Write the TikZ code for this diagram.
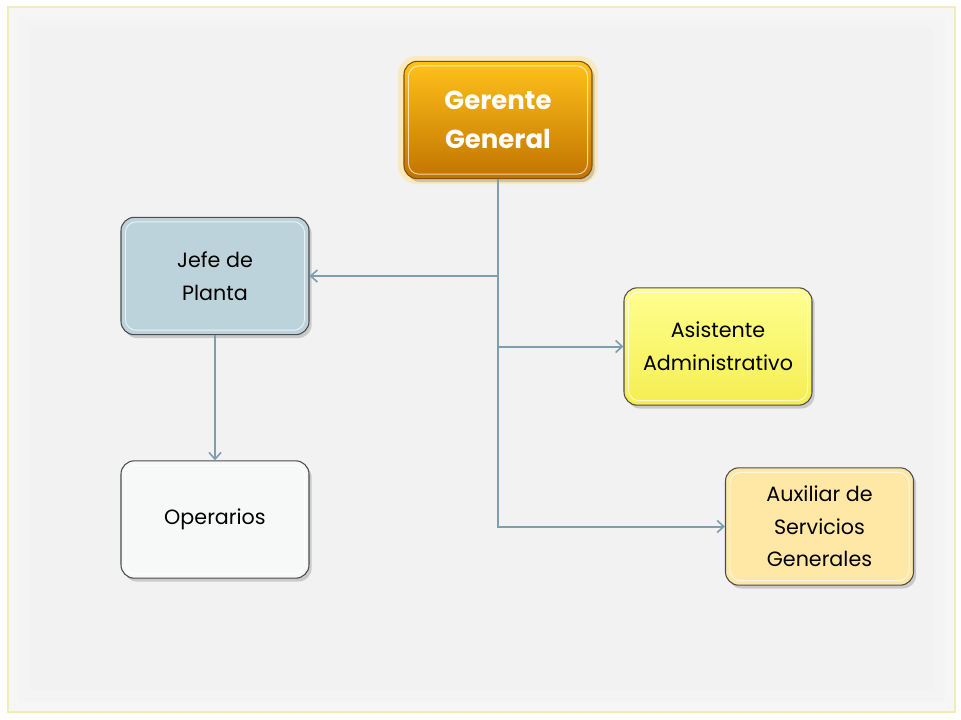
\documentclass[tikz,border=0pt]{standalone}
\usepackage{fontspec}
\setmainfont{Poppins}
\usetikzlibrary{arrows.meta,positioning,shadows,calc}
\definecolor{orgline}{HTML}{7C9EAE}
\definecolor{orgback}{HTML}{F2F2F2}
\definecolor{orgframe}{HTML}{F1EDB8}
\definecolor{gerTop}{HTML}{FFC21A}
\definecolor{gerMid}{HTML}{FF9C00}
\definecolor{gerBot}{HTML}{C27300}
\definecolor{jefeFill}{HTML}{BCD3DB}
\definecolor{operFill}{HTML}{F7F9F9}
\definecolor{asisTop}{HTML}{FFFF90}
\definecolor{asisBot}{HTML}{F4EE50}
\definecolor{auxFill}{HTML}{FFE7A6}
\tikzset{
  orgbox/.style={rounded corners=10pt, minimum width=141pt, minimum height=88pt,
    align=center, draw=black!70, line width=0.8pt, font=\fontsize{15.5}{24.5}\selectfont,
    drop shadow={shadow xshift=2pt, shadow yshift=-2.5pt, opacity=0.35}},
  bevel/.style={draw=white, opacity=0.7, line width=0.7pt, rounded corners=8pt},
  conn/.style={draw=orgline, line width=1.5pt, -{Straight Barb[length=5pt,width=9pt,line width=1.2pt]}}
}
\begin{document}
\begin{tikzpicture}[x=0.75pt,y=-0.75pt]
\useasboundingbox (0,0) rectangle (961,719);
% fondo
\fill[white] (0,0) rectangle (961,719);
\fill[orgback!70!white, draw=orgframe, line width=1.2pt] (8,7) rectangle (955,712);
\fill[orgback!85!white] (18,17) rectangle (945,702);
\fill[orgback] (30,28) rectangle (933,690);
% glow del gerente
\fill[gerTop!45, opacity=0.6, rounded corners=14pt] (398,56) rectangle (598,184);
% cajas
\node[orgbox, top color=gerTop, middle color=gerMid, bottom color=gerBot, draw=gerBot!70!black,
  text=white, font=\bfseries\fontsize{19.5}{29}\selectfont] (ger) at (498,120) {Gerente\\General};
\node[orgbox, fill=jefeFill] (jefe) at (215,276) {Jefe de\\Planta};
\node[orgbox, fill=operFill] (oper) at (215,519.5) {Operarios};
\node[orgbox, top color=asisTop, bottom color=asisBot] (asis) at (718,346.5) {Asistente\\Administrativo};
\node[orgbox, fill=auxFill] (aux) at (819.5,526.5) {Auxiliar de\\Servicios\\Generales};
\foreach \n in {ger,jefe,oper,asis,aux}
  \draw[bevel] ($(\n.south west)+(5,-5)$) rectangle ($(\n.north east)+(-5,5)$);
% conectores
\draw[conn] (ger.south) |- (jefe.east);
\draw[conn] (ger.south) |- (asis.west);
\draw[conn] (ger.south) |- (aux.west);
\draw[conn] (jefe.south) -- (oper.north);
\end{tikzpicture}
\end{document}
